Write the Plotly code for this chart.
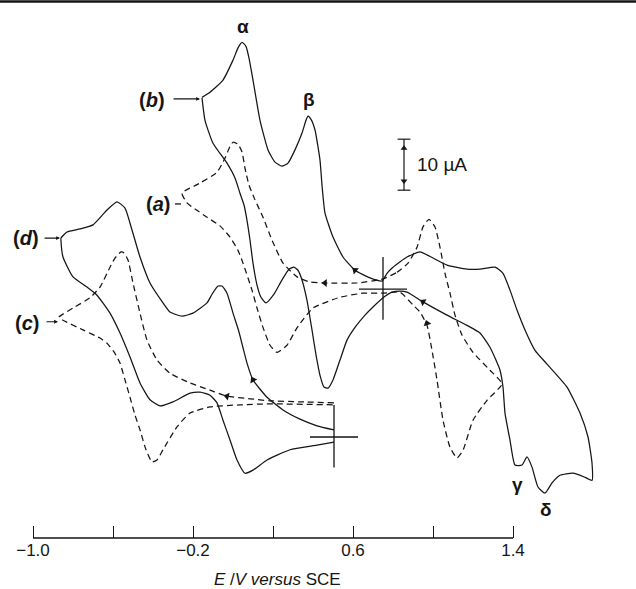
import numpy as np
import plotly.graph_objects as go

# ---------------- data (E in V vs SCE, I in µA relative to each zero marker) ----------------
b_E = [-0.155, -0.115, -0.05, 0.0, 0.025, 0.045, 0.065, 0.08, 0.10, 0.135, 0.175, 0.21, 0.245, 0.275,
       0.31, 0.345, 0.365, 0.375, 0.39, 0.41, 0.435, 0.445, 0.46, 0.50, 0.55, 0.61, 0.685, 0.745,
       0.77, 0.80, 0.87, 0.935, 1.0, 1.07, 1.17, 1.235, 1.31, 1.35, 1.385, 1.42, 1.46, 1.51, 1.57,
       1.67, 1.735, 1.775, 1.795, 1.795, 1.76, 1.70, 1.635, 1.595, 1.56, 1.525, 1.495, 1.47, 1.445,
       1.41, 1.385, 1.36, 1.35, 1.335, 1.285, 1.235, 1.17, 1.07, 0.95, 0.87, 0.835, 0.795, 0.76,
       0.70, 0.66, 0.61, 0.57, 0.535, 0.50, 0.475, 0.455, 0.435, 0.415, 0.395, 0.37, 0.345, 0.325,
       0.305, 0.28, 0.245, 0.205, 0.165, 0.14, 0.12, 0.10, 0.085, 0.07, 0.055, 0.035, 0.01, -0.03,
       -0.10, -0.14, -0.155]
b_I = [37.6, 38.6, 41.0, 44.9, 47.3, 48.4, 47.6, 45.3, 41.0, 33.1, 27.3, 24.9, 24.1, 24.7,
       27.3, 30.6, 33.1, 33.9, 33.3, 31.2, 25.3, 20.4, 14.9, 10.2, 6.3, 3.7, 2.2, 1.6,
       3.1, 4.3, 6.3, 7.3, 6.1, 4.7, 3.9, 3.9, 4.3, 3.1, -0.2, -4.1, -8.0, -12.0, -14.7,
       -19.2, -24.3, -29.0, -34.1, -37.5, -36.9, -36.1, -36.5, -38.0, -40.0, -38.8, -34.9, -32.9, -34.5,
       -34.5, -29.6, -24.3, -19.2, -15.9, -11.4, -8.6, -7.1, -5.1, -2.5, -0.6, -0.4, -0.6, -1.4,
       -3.5, -5.1, -7.5, -10.0, -13.9, -17.8, -19.4, -19.2, -16.9, -12.9, -8.0, -2.2, 1.8, 3.7,
       4.3, 3.9, 1.8, -1.0, -2.7, -1.6, 0.8, 5.1, 9.6, 13.5, 16.5, 18.8, 21.8, 24.7,
       28.6, 33.1, 37.5]

a_E = [0.75, 0.82, 0.875, 0.92, 0.95, 0.98, 1.01, 1.035, 1.06, 1.085, 1.11, 1.145, 1.20, 1.285, 1.345,
       1.27, 1.20, 1.15, 1.12, 1.085, 1.05, 1.02, 0.995, 0.97, 0.935, 0.90, 0.835, 0.75,
       0.65, 0.535, 0.40, 0.32, 0.27, 0.22, 0.185, 0.15, 0.12, 0.095, 0.05, 0.025, -0.015, -0.065,
       -0.13, -0.19, -0.23, -0.255,
       -0.165, -0.08, -0.04, -0.015, 0.0, 0.025, 0.045, 0.06, 0.08, 0.11, 0.15, 0.195, 0.25, 0.32,
       0.385, 0.46, 0.62, 0.75]
a_I = [2.0, 3.3, 5.1, 8.2, 12.2, 13.7, 12.2, 8.2, 3.1, -0.8, -5.1, -9.0, -12.4, -15.9, -18.6,
       -21.8, -25.7, -31.6, -33.1, -31.0, -25.7, -17.8, -12.0, -7.1, -4.5, -3.1, -0.6, -0.8,
       -0.8, -1.6, -3.7, -7.6, -11.0, -12.4, -11.0, -7.5, -3.7, -0.2, 5.1, 7.6, 10.2, 12.4,
       14.1, 15.7, 16.9, 18.8,
       20.8, 22.9, 25.7, 28.0, 28.8, 28.4, 26.9, 23.7, 20.4, 17.5, 14.1, 9.6, 5.1, 2.4,
       1.4, 1.2, 1.2, 2.0]

d_E = [0.505, 0.42, 0.335, 0.25, 0.17, 0.10, 0.07, 0.05, 0.03, 0.0, -0.03, -0.055, -0.075, -0.105,
       -0.13, -0.20, -0.255, -0.315, -0.35, -0.415, -0.465, -0.505, -0.54, -0.58, -0.63, -0.70,
       -0.765, -0.83, -0.86,
       -0.86, -0.85, -0.80, -0.73, -0.68, -0.615, -0.565, -0.515, -0.465, -0.415, -0.365, -0.30,
       -0.215, -0.165, -0.115, -0.08, -0.05, -0.015, 0.02, 0.06, 0.10, 0.17, 0.285, 0.42, 0.505]
d_I = [1.4, 2.2, 3.5, 5.3, 7.8, 11.2, 14.5, 17.5, 20.6, 24.3, 28.2, 29.6, 29.6, 28.0,
       26.3, 24.3, 23.7, 24.5, 26.3, 30.2, 35.3, 40.6, 44.9, 46.1, 44.5, 41.6,
       40.8, 40.2, 39.0,
       38.4, 35.3, 31.4, 29.4, 27.8, 24.3, 20.4, 15.7, 10.6, 7.3, 6.1, 6.9,
       8.6, 8.8, 8.2, 6.7, 3.3, -0.6, -4.5, -7.1, -6.5, -4.5, -2.5, -1.6, -1.0]

c_E = [0.505, 0.335, 0.185, 0.085, -0.03, -0.115, -0.215, -0.315, -0.38, -0.43, -0.465, -0.50,
       -0.525, -0.545, -0.56, -0.59, -0.615, -0.665, -0.715, -0.80, -0.87,
       -0.85, -0.75, -0.665, -0.63, -0.595, -0.565, -0.54, -0.515, -0.49, -0.465, -0.435, -0.405,
       -0.38, -0.35, -0.28, -0.215, -0.115, 0.035, 0.185, 0.505]
c_I = [6.7, 6.9, 7.1, 7.5, 8.0, 9.2, 10.6, 12.5, 15.1, 19.0, 24.3, 30.2,
       34.7, 36.1, 36.3, 35.1, 33.3, 29.4, 27.3, 25.3, 23.5,
       22.9, 21.0, 19.4, 18.4, 16.7, 14.5, 11.2, 7.8, 4.3, 1.4, -2.5, -4.9,
       -4.5, -2.5, 2.0, 4.7, 5.9, 6.3, 6.5, 6.3]

# vertical offsets of the two groups of curves (µA) and start-potential markers (V)
AB_OFFSET = 48.8
CD_OFFSET = 19.8
AB_START_E = 0.75
CD_START_E = 0.505

# sweep-direction arrows: (E, I, group, angle)
arrow_E = [0.61, 0.95, 0.46, 0.97, 0.10, -0.03]
arrow_I = [3.7, -2.5, 1.2, -6.7, 11.2, 8.0]
arrow_grp = ['ab', 'ab', 'ab', 'ab', 'cd', 'cd']
arrow_ang = [-52, -60, -90, -18, -30, -77]

tick_vals = [-1.0, -0.6, -0.2, 0.2, 0.6, 1.0, 1.4]
tick_text = ['\u22121.0', '', '\u22120.2', '', '0.6', '', '1.4']

# ---------------- figure ----------------
INK = '#151515'
FONT = 'Liberation Sans, Arial, sans-serif'
fig = go.Figure()

def add_curve(E, I, off, dash):
    fig.add_trace(go.Scatter(
        x=E, y=np.array(I) + off, mode='lines',
        line=dict(color=INK, width=1.25, dash=dash, shape='spline', smoothing=0.5),
        hoverinfo='skip', showlegend=False))

add_curve(b_E, b_I, AB_OFFSET, 'solid')
add_curve(a_E, a_I, AB_OFFSET, '6px,4px')
add_curve(d_E, d_I, CD_OFFSET, 'solid')
add_curve(c_E, c_I, CD_OFFSET, '6px,4px')

# start / zero markers (crosses)
for e0, off in [(AB_START_E, AB_OFFSET), (CD_START_E, CD_OFFSET)]:
    fig.add_trace(go.Scatter(x=[e0, e0], y=[off + 6.3, off - 6.0], mode='lines',
                             line=dict(color=INK, width=1.3), hoverinfo='skip', showlegend=False))
    fig.add_trace(go.Scatter(x=[e0 - 0.12, e0 + 0.12], y=[off, off], mode='lines',
                             line=dict(color=INK, width=1.3), hoverinfo='skip', showlegend=False))

# sweep arrows
ay = [i + (AB_OFFSET if g == 'ab' else CD_OFFSET) for i, g in zip(arrow_I, arrow_grp)]
fig.add_trace(go.Scatter(x=arrow_E, y=ay, mode='markers',
                         marker=dict(symbol='triangle-up', size=7, color=INK, angle=arrow_ang, line=dict(width=0)),
                         hoverinfo='skip', showlegend=False))

# 10 µA scale bar
SB_E, SB_Y0, SB_LEN = 0.855, 68.2, 10
fig.add_trace(go.Scatter(x=[SB_E, SB_E], y=[SB_Y0, SB_Y0 + SB_LEN], mode='lines',
                         line=dict(color=INK, width=1.2), hoverinfo='skip', showlegend=False))
for yy in [SB_Y0, SB_Y0 + SB_LEN]:
    fig.add_trace(go.Scatter(x=[SB_E - 0.032, SB_E + 0.032], y=[yy, yy], mode='lines',
                             line=dict(color=INK, width=1.2), hoverinfo='skip', showlegend=False))
fig.add_trace(go.Scatter(x=[SB_E, SB_E], y=[SB_Y0 + SB_LEN - 1.8, SB_Y0 + 1.8], mode='markers',
                         marker=dict(symbol=['triangle-up', 'triangle-down'], size=6, color=INK),
                         hoverinfo='skip', showlegend=False))

ann = []
def txt(x, y, s, size=17, xanchor='center', xref='x', yref='y'):
    ann.append(dict(x=x, y=y, text=s, showarrow=False, xref=xref, yref=yref, xanchor=xanchor,
                    yanchor='middle', font=dict(family=FONT, size=size, color=INK)))

txt(0.05, 100.2, '<b>\u03b1</b>', 19)
txt(0.38, 85.9, '<b>\u03b2</b>', 19)
txt(1.42, 10.4, '<b>\u03b3</b>', 19)
txt(1.565, 5.5, '<b>\u03b4</b>', 19)
txt(0.91, 73.3, '10 \u00b5A', 19, xanchor='left')
txt(-0.405, 85.9, '<b>(<i>b</i>)</b>', 20)
txt(-0.375, 65.5, '<b>(<i>a</i>)</b>', 20)
txt(-1.035, 58.8, '<b>(<i>d</i>)</b>', 20)
txt(-1.03, 42.2, '<b>(<i>c</i>)</b>', 20)
txt(0.22, -0.078, '<i>E</i> /<i>V versus</i> SCE', 17, xref='x', yref='paper')

# label arrows
for (xh, yh, dx) in [(-0.165, 86.1, -28), (-0.865, 58.8, -17), (-0.875, 42.4, -13)]:
    ann.append(dict(x=xh, y=yh, ax=dx, ay=0, xref='x', yref='y', showarrow=True,
                    arrowhead=2, arrowsize=0.7, arrowwidth=1.1, arrowcolor=INK, text=''))
fig.add_trace(go.Scatter(x=[-0.29, -0.26], y=[65.5, 65.5], mode='lines',
                         line=dict(color=INK, width=1.3), hoverinfo='skip', showlegend=False))

shapes = [
    dict(type='line', xref='x', yref='paper', x0=-1.0, x1=1.4, y0=0, y1=0, line=dict(color=INK, width=1.3)),
    dict(type='line', xref='paper', yref='paper', x0=0, x1=1, y0=0.9972, y1=0.9972, line=dict(color=INK, width=2.5)),
]

fig.update_layout(
    width=636, height=589, margin=dict(l=0, r=0, t=0, b=51),
    paper_bgcolor='white', plot_bgcolor='white',
    annotations=ann, shapes=shapes, showlegend=False,
    xaxis=dict(range=[-1.165, 2.015], tickvals=tick_vals, ticktext=tick_text, ticks='inside',
               ticklen=12, tickwidth=1.2, tickcolor=INK, showgrid=False, zeroline=False, showline=False,
               tickfont=dict(family=FONT, size=17, color=INK), fixedrange=True),
    yaxis=dict(range=[0, 105.49], visible=False, showgrid=False, zeroline=False, fixedrange=True),
)

fig.write_html('out.html', config={'displayModeBar': False},
               post_script="document.body.style.margin='0';document.body.style.overflow='hidden';")
